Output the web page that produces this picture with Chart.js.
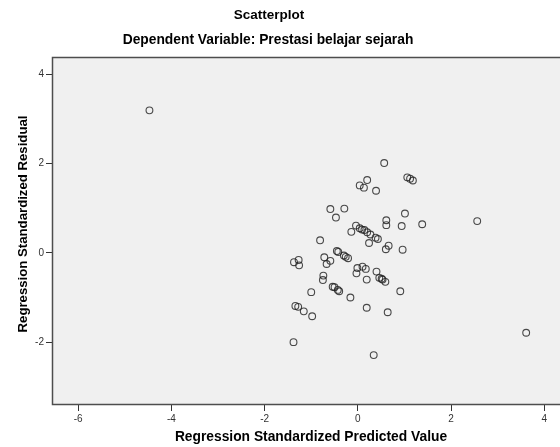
<!DOCTYPE html>
<html>
<head>
<meta charset="utf-8">
<script src="https://cdn.jsdelivr.net/npm/chart.js@4/dist/chart.umd.min.js"></script>
<style>
html,body{margin:0;padding:0;background:#fff;overflow:hidden;width:560px;height:447px;}
#wrap{position:absolute;left:0;top:0;width:580px;height:447px;}
</style>
</head>
<body>
<div id="wrap"><canvas id="c" width="580" height="447"></canvas></div>
<script>
const chartTitle = "Scatterplot";
const chartSubtitle = "Dependent Variable: Prestasi belajar sejarah";
const xAxisTitle = "Regression Standardized Predicted Value";
const yAxisTitle = "Regression Standardized Residual";
const xTicks = [-6, -4, -2, 0, 2, 4];
const yTicks = [-2, 0, 2, 4];
const xValues = [-4.47, 0.565, 1.06, 1.12, 1.18, 0.20, 0.04, 0.13, 0.39, -0.59, -0.29, -0.47, 1.01, 0.61, 0.61, 0.94, 1.38, 2.56, -0.04, -0.14, 0.04, 0.09, 0.14, 0.20, 0.27, 0.38, 0.43, 0.24, -0.81, 0.66, 0.60, 0.96, -0.45, -0.42, -0.30, -0.26, -0.21, -1.37, -1.27, -1.26, -0.72, -0.59, -0.67, -0.01, 0.10, 0.17, -0.03, 0.40, 0.46, 0.51, 0.53, 0.59, 0.19, -0.74, -0.75, -0.54, -0.50, -0.43, -0.40, 0.91, -1.00, -0.16, -1.34, -1.28, -1.16, -0.98, 0.19, 0.64, -1.38, 0.34, 3.61];
const yValues = [3.19, 2.01, 1.69, 1.66, 1.62, 1.63, 1.51, 1.46, 1.39, 0.98, 0.99, 0.79, 0.88, 0.73, 0.62, 0.60, 0.64, 0.71, 0.61, 0.47, 0.55, 0.52, 0.51, 0.46, 0.41, 0.34, 0.31, 0.22, 0.28, 0.16, 0.08, 0.07, 0.04, 0.02, -0.06, -0.09, -0.12, -0.21, -0.16, -0.28, -0.10, -0.18, -0.25, -0.34, -0.31, -0.36, -0.46, -0.42, -0.56, -0.58, -0.60, -0.65, -0.60, -0.51, -0.61, -0.76, -0.77, -0.83, -0.86, -0.86, -0.88, -1.00, -1.19, -1.21, -1.31, -1.42, -1.23, -1.33, -2.00, -2.29, -1.79];

const points = xValues.map((x, i) => ({x: x, y: yValues[i]}));

const FONT = '"Liberation Sans", Arial, sans-serif';

const framePlugin = {
  id: 'frame',
  beforeDraw(chart) {
    const {ctx, chartArea: a} = chart;
    ctx.save();
    ctx.fillStyle = '#f0f0f0';
    ctx.fillRect(a.left, a.top, a.right - a.left, a.bottom - a.top);
    ctx.restore();
  },
  afterDraw(chart) {
    const {ctx, chartArea: a} = chart;
    ctx.save();
    ctx.strokeStyle = '#4d4d4d';
    ctx.lineWidth = 1.5;
    ctx.strokeRect(Math.round(a.left) + 0.5, Math.round(a.top) + 0.5, a.right - a.left, Math.round(a.bottom - a.top));
    ctx.fillStyle = '#000';
    ctx.textAlign = 'center';
    ctx.textBaseline = 'middle';
    ctx.font = 'bold 13.5px ' + FONT;
    ctx.fillText(chartTitle, 269, 15);
    ctx.font = 'bold 13.8px ' + FONT;
    ctx.fillText(chartSubtitle, 268, 40);
    ctx.font = 'bold 13.8px ' + FONT;
    ctx.fillText(xAxisTitle, 311, 437);
    ctx.font = 'bold 13.2px ' + FONT;
    ctx.translate(23, 224);
    ctx.rotate(-Math.PI / 2);
    ctx.fillText(yAxisTitle, 0, 0);
    ctx.restore();
  }
};

new Chart(document.getElementById('c'), {
  type: 'scatter',
  data: {
    datasets: [{
      data: points,
      pointStyle: 'circle',
      pointRadius: 3.4,
      pointHoverRadius: 3.4,
      pointBorderWidth: 1.1,
      borderColor: 'rgba(30,30,30,0.8)',
      backgroundColor: 'rgba(0,0,0,0)'
    }]
  },
  options: {
    responsive: false,
    animation: false,
    events: [],
    layout: {padding: {left: 0, top: 57, right: 10, bottom: 0}},
    plugins: {legend: {display: false}, tooltip: {enabled: false}, title: {display: false}},
    scales: {
      x: {
        type: 'linear',
        min: -6.56,
        max: 4.55,
        afterBuildTicks(s) { s.ticks = xTicks.map(v => ({value: v})); },
        afterFit(s) { s.height = 43; },
        border: {display: false},
        grid: {drawOnChartArea: false, drawTicks: true, tickLength: 7, color: '#333', lineWidth: 1},
        ticks: {padding: 2, color: '#333', font: {family: FONT, size: 10}, maxRotation: 0, autoSkip: false}
      },
      y: {
        type: 'linear',
        min: -3.385,
        max: 4.385,
        afterBuildTicks(s) { s.ticks = yTicks.map(v => ({value: v})); },
        afterFit(s) { s.width = 52; },
        border: {display: false},
        grid: {drawOnChartArea: false, drawTicks: true, tickLength: 6, color: '#333', lineWidth: 1},
        ticks: {padding: 2, color: '#333', font: {family: FONT, size: 10}, autoSkip: false}
      }
    }
  },
  plugins: [framePlugin]
});
</script>
</body>
</html>
